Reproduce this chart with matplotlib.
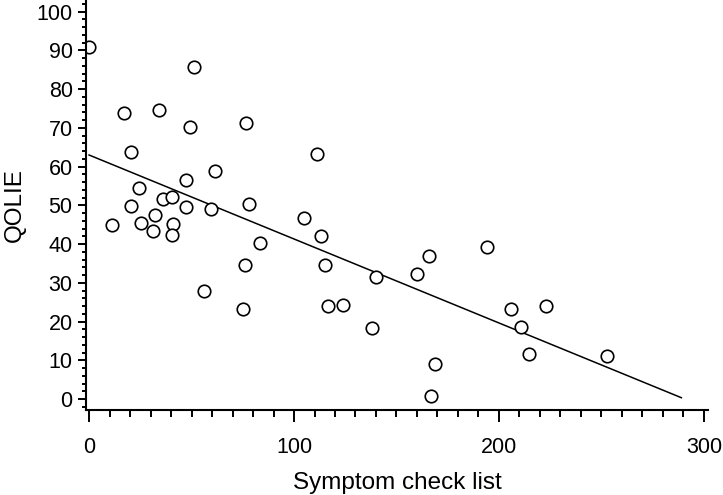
import matplotlib
matplotlib.use("Agg")
import matplotlib.pyplot as plt
import numpy as np
from matplotlib.ticker import MultipleLocator

plt.rcParams['font.family'] = ['Liberation Sans', 'DejaVu Sans']

symptom = [0, 51.2, 17, 34, 49.3, 76.6, 20.5, 111, 61.5, 47.3, 24.4, 36, 40.5,
           20.5, 47.3, 59.5, 78, 11.2, 25.4, 32.2, 41, 31.2, 40.5, 83.4, 104.9,
           113.2, 115, 76, 56, 75.3, 116.6, 124, 140, 138, 160, 165.9, 194,
           169, 166.8, 205.9, 210.7, 223, 214.6, 252.7]
qolie = [91, 85.8, 73.9, 74.7, 70.3, 71.3, 63.8, 63.3, 58.9, 56.6, 54.5, 51.7,
         52.2, 49.9, 49.6, 49.1, 50.4, 45, 45.5, 47.5, 45.2, 43.5, 42.4, 40.3,
         46.7, 42.1, 34.6, 34.6, 27.9, 23.3, 24, 24.3, 31.5, 18.3, 32.3, 37,
         39.3, 9, 0.8, 23.2, 18.6, 24, 11.6, 11.1]

fit_intercept = 63.0
fit_slope = -0.2167
fit_x = [0, 289]

x_ticks = [0, 100, 200, 300]
y_ticks = [0, 10, 20, 30, 40, 50, 60, 70, 80, 90, 100]

fig = plt.figure(figsize=(7.23, 4.95), dpi=100)
ax = fig.add_axes([86/723, 85/495, (708-86)/723, 410/495])

fx = np.array(fit_x, dtype=float)
ax.plot(fx, fit_intercept + fit_slope * fx, color='black', lw=1.1)
ax.plot(symptom, qolie, linestyle='none', marker='o', markersize=9,
        markerfacecolor='white', markeredgecolor='black', markeredgewidth=1.2)

ax.set_xlim(-1.5, 302)
ax.set_ylim(-2.8, 103)
ax.set_xticks(x_ticks)
ax.set_yticks(y_ticks)
ax.xaxis.set_minor_locator(MultipleLocator(10))
ax.yaxis.set_minor_locator(MultipleLocator(2))

for s in ['top', 'right']:
    ax.spines[s].set_visible(False)
for s in ['left', 'bottom']:
    ax.spines[s].set_linewidth(1.5)

ax.tick_params(axis='both', which='both', width=1.4, labelsize=15.5)
ax.tick_params(axis='x', which='major', length=8.6, pad=11)
ax.tick_params(axis='x', which='minor', length=5)
ax.tick_params(axis='y', which='major', length=6, pad=3.6)
ax.tick_params(axis='y', which='minor', length=3)

ax.set_xlabel('Symptom check list', fontsize=17.5, labelpad=10)
ax.set_ylabel('QOLIE', fontsize=17.5, labelpad=8)

fig.savefig('out.png', dpi=100)
